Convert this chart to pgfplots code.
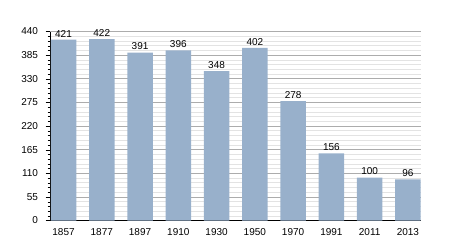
\documentclass[border=0pt]{standalone}
\usepackage{pgfplots}
\pgfplotsset{compat=1.18}
\usepackage{fontspec}
\setmainfont{Liberation Sans}
\definecolor{barc}{RGB}{152,176,203}
\begin{document}
\begin{tikzpicture}[x=1pt,y=1pt]
\useasboundingbox (0,0) rectangle (450,250);
\begin{axis}[
  at={(50pt,29.5pt)}, anchor=south west,
  scale only axis, width=370.7pt, height=189pt,
  xmin=-0.353, xmax=9.334, ymin=0, ymax=440,
  xtick=data,
  xticklabels={1857,1877,1897,1910,1930,1950,1970,1991,2011,2013},
  ytick={0,55,110,165,220,275,330,385,440},
  minor y tick num=4,
  axis x line*=bottom, axis y line*=left,
  axis line style={black, -},
  major x tick style={draw=none},
  y tick style={black},
  tick align=outside,
  major tick length=4.5pt, minor tick length=2.5pt,
  ymajorgrids, yminorgrids,
  major grid style={gray!65, line width=0.6pt},
  minor grid style={gray!22, line width=0.5pt},
  /pgf/number format/assume math mode=true,
  tick label style={font=\fontsize{10}{12}\selectfont},
  yticklabel style={xshift=-4pt},
  ybar, bar width=25.5pt,
  nodes near coords,
  every node near coord/.append style={font=\fontsize{10}{12}\selectfont, black, yshift=-1pt},
  clip=false,
]
\addplot[fill=barc, draw=none] coordinates {
(0,421) (1,422) (2,391) (3,396) (4,348) (5,402) (6,278) (7,156) (8,100) (9,96)};
\end{axis}
\end{tikzpicture}
\end{document}
